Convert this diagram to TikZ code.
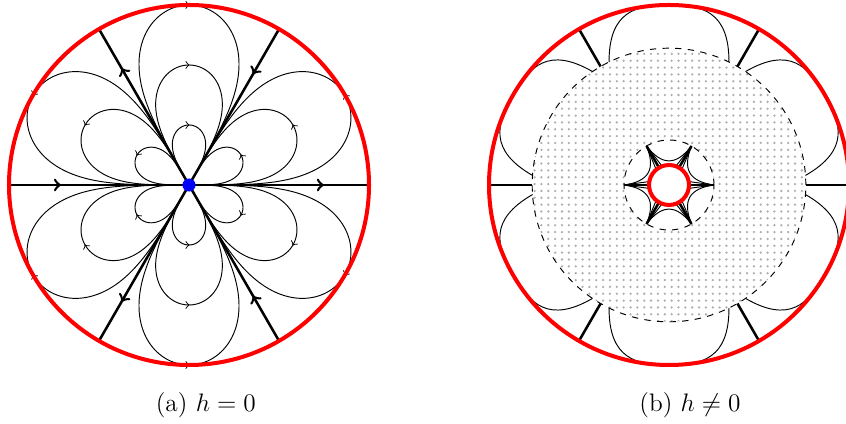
\documentclass[tikz,border=0pt]{standalone}
\usepackage{amsmath}
\usetikzlibrary{decorations.markings,patterns.meta}

\tikzdeclarepattern{name=griddots,type=uncolored,
  bounding box={(-1.65pt,-1.65pt) and (1.65pt,1.65pt)},
  tile size={(3.25pt,3.25pt)},
  code={\pgfpathcircle{\pgfpointorigin}{.6pt}\pgfusepath{fill}}}

\begin{document}
\begin{tikzpicture}[x=1cm,y=1cm,line width=.45pt,font=\large,
  bdry/.style={red,line width=1.9pt},
  sepx/.style={line width=1.2pt},
  midtip/.style={postaction={decorate},decoration={markings,mark=at position #1 with {\arrow{\tipdir}}}}]
\useasboundingbox (-3.15,-3.983) rectangle (10.95,3.083);
\coordinate (O) at (0,0);
\coordinate (Q) at (8,0);
% h=0
\foreach \k/\tipdir/\s in {0/>/1,1/</-1,2/>/1,3/</-1,4/>/1,5/</-1}{
  \foreach \R in {1,2,3}{
    \draw[rotate=60*\k] plot[domain=0:180,samples=121,variable=\t]
      ({atan2(sin(\t)^3,cos(\t)*sqrt(1+sin(\t)^2+sin(\t)^4))/3}:{\R*sin(\t)});
    \draw[rotate=60*\k+30,-to] (\R,-\s*.01) -- (\R,\s*.01);
  }
  \draw[sepx,midtip=.75] (O) -- (60*\k:3);
}
\draw[bdry] (O) circle (3);
\fill[blue] (O) circle (3.1pt);
% h not 0
\begin{scope}[shift={(Q)}]
\fill[pattern=griddots,pattern color=black!32] (0,0) circle (2.28);
\fill[white] (0,0) circle (.75);
\draw[dashed] (0,0) circle (2.28);
\draw[dashed] (0,0) circle (.75);
\foreach \k in {0,...,5}{
  \draw[sepx] (60*\k:2.28) -- (60*\k:3);
  \draw[rotate=60*\k] (116:2.28) .. controls (-1,2.9) and (-.55,3) .. (0,3)
    .. controls (.55,3) and (1,2.9) .. (64:2.28);
  \draw[sepx] (60*\k:.333) -- (60*\k:.75);
  \draw (60*\k:.75) -- (60*\k-9:.35) (60*\k:.75) -- (60*\k+9:.35);
  \draw (60*\k:.75) .. controls (60*\k+10:.34) and (60*\k+50:.34) .. (60*\k+60:.75);
}
\draw[bdry,fill=white] (0,0) circle (.333);
\draw[bdry] (0,0) circle (3);
\end{scope}
\node (capa) at (0.28,-3.667) {(a) $h=0$};
\node (capb) at (8.35,-3.667) {(b) $h\neq 0$};
\end{tikzpicture}
\end{document}
